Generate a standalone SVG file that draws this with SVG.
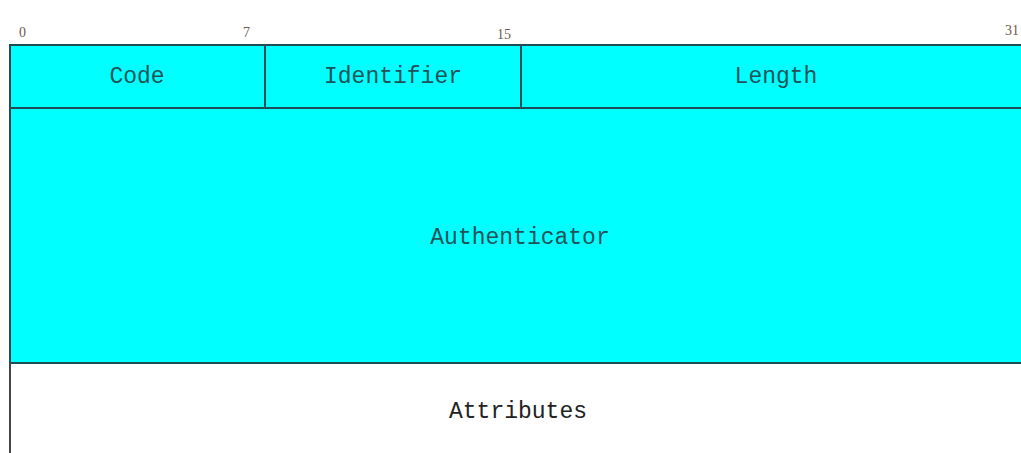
<svg xmlns="http://www.w3.org/2000/svg" width="1021" height="453" viewBox="0 0 1021 453">
<style>
.cell{fill:#00ffff;stroke:#1c4f55;stroke-width:2}
.lbl{font-family:"Liberation Mono",monospace;font-size:23px;fill:#1f5258;text-anchor:middle}
.wl{fill:#222}
.num{font-family:"Liberation Serif",serif;font-size:14px;fill:#6b5a50}
</style>
<rect width="1021" height="453" fill="#ffffff"/>
<g id="bits">
<text class="num" x="19" y="37">0</text>
<text class="num" x="243" y="37">7</text>
<text class="num" x="497" y="39">15</text>
<text class="num" x="1005" y="35">31</text>
</g>
<g id="code"><rect class="cell" x="10" y="45" width="255" height="63"/><text class="lbl" x="137" y="83">Code</text></g>
<g id="identifier"><rect class="cell" x="265" y="45" width="256" height="63"/><text class="lbl" x="393" y="83">Identifier</text></g>
<g id="length"><rect class="cell" x="521" y="45" width="512" height="63"/><text class="lbl" x="776" y="83">Length</text></g>
<g id="authenticator"><rect class="cell" x="10" y="108" width="1023" height="255"/><text class="lbl" x="520" y="244">Authenticator</text></g>
<g id="attributes"><path d="M10 363 V453" stroke="#444" stroke-width="2" fill="none"/><text class="lbl wl" x="518" y="418">Attributes</text></g>
<g id="connectors"/>
</svg>
